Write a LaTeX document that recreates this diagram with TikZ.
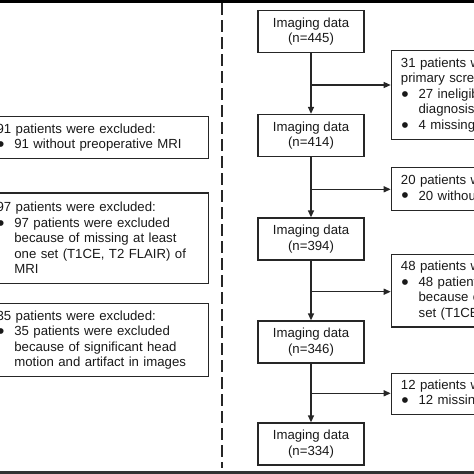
\documentclass[tikz,border=0pt]{standalone}
\usepackage{fontspec}
\setmainfont{Liberation Sans}
\usetikzlibrary{arrows.meta}
\newcommand{\bul}{\makebox[17.7pt][l]{\hspace{0.5pt}\raisebox{-0.22em}{\scalebox{1.6}{\textbullet}}}}
\newcommand{\ind}{\hspace*{17.7pt}}

\begin{document}
\begin{tikzpicture}[x=1pt,y=-1pt]
\useasboundingbox (0,0) rectangle (474,474);
\clip (0,0) rectangle (474,474);

\fill[black] (0,0) rectangle (474,3);
\fill[black!80] (0,470.5) rectangle (474,474);
\draw[black!85,line width=1.8pt,dash pattern=on 12pt off 5pt] (222,3) -- (222,468);

\begin{scope}[every node/.style={draw=black!85,line width=1.3pt,text=black!90,
              font=\fontsize{13.2}{15.5}\selectfont}]
    % main flow
    \node[minimum width=106pt,minimum height=42pt,align=center] (Img445) at (311,31.8) {Imaging data\\(n=445)};
    \node[minimum width=106pt,minimum height=42pt,align=center] (Img414) at (311,135.5) {Imaging data\\(n=414)};
    \node[minimum width=106pt,minimum height=42pt,align=center] (Img394) at (311,239) {Imaging data\\(n=394)};
    \node[minimum width=106pt,minimum height=42pt,align=center] (Img346) at (311,342) {Imaging data\\(n=346)};
    \node[minimum width=106pt,minimum height=42pt,align=center] (Img334) at (311,444) {Imaging data\\(n=334)};

    % exclusions on the right
    \node[anchor=west,text width=170pt,inner xsep=9.6pt,inner ysep=2pt,minimum height=88.6pt,align=left] (ExclScreen) at (390.7,95)
        {31 patients w\\primary scre\\\bul 27 ineligib\\\ind diagnosis\\\bul 4 missing};
    \node[anchor=west,text width=170pt,inner xsep=9.6pt,inner ysep=2pt,minimum height=43.4pt,align=left] (ExclTwenty) at (390.7,189)
        {20 patients w\\\bul 20 without};
    \node[anchor=west,text width=170pt,inner xsep=9.6pt,inner ysep=2pt,minimum height=72.7pt,align=left] (ExclFortyEight) at (390.7,290.7)
        {48 patients w\\\bul 48 patients\\\ind because of\\\ind set (T1CE,};
    \node[anchor=west,text width=170pt,inner xsep=9.6pt,inner ysep=2pt,minimum height=41pt,align=left] (ExclTwelve) at (390.7,393.8)
        {12 patients w\\\bul 12 missing};

    % exclusions on the left
    \node[anchor=north east,text width=203pt,inner xsep=9pt,inner ysep=2pt,minimum height=42pt,align=left] (ExclNinetyOne) at (209.3,116)
        {91 patients were excluded:\\\bul 91 without preoperative MRI};
    \node[anchor=north east,text width=203pt,inner xsep=9pt,inner ysep=2pt,minimum height=90.4pt,align=left] (ExclNinetySeven) at (209.3,192.3)
        {97 patients were excluded:\\\bul 97 patients were excluded\\\ind because of missing at least\\\ind one set (T1CE, T2 FLAIR) of\\\ind MRI};
    \node[anchor=north east,text width=203pt,inner xsep=9pt,inner ysep=2pt,minimum height=73.3pt,align=left] (ExclThirtyFive) at (209.3,302.7)
        {35 patients were excluded:\\\bul 35 patients were excluded\\\ind because of significant head\\\ind motion and artifact in images};
    \end{scope}

\coordinate (SplitA) at (311,85);
\coordinate (SplitB) at (311,189.3);
\coordinate (SplitC) at (311,291.7);
\coordinate (SplitD) at (311,393.3);

\begin{scope}[>={Triangle[length=7pt,width=6pt]},
              every edge/.style={draw=black!85,line width=1.3pt}]
    \path [->] (Img445) edge (Img414);
    \path [->] (Img414) edge (Img394);
    \path [->] (Img394) edge (Img346);
    \path [->] (Img346) edge (Img334);
    \path [->] (SplitA) edge (SplitA -| ExclScreen.west);
    \path [->] (SplitB) edge (SplitB -| ExclTwenty.west);
    \path [->] (SplitC) edge (SplitC -| ExclFortyEight.west);
    \path [->] (SplitD) edge (SplitD -| ExclTwelve.west);
    \end{scope}

\end{tikzpicture}
\end{document}
